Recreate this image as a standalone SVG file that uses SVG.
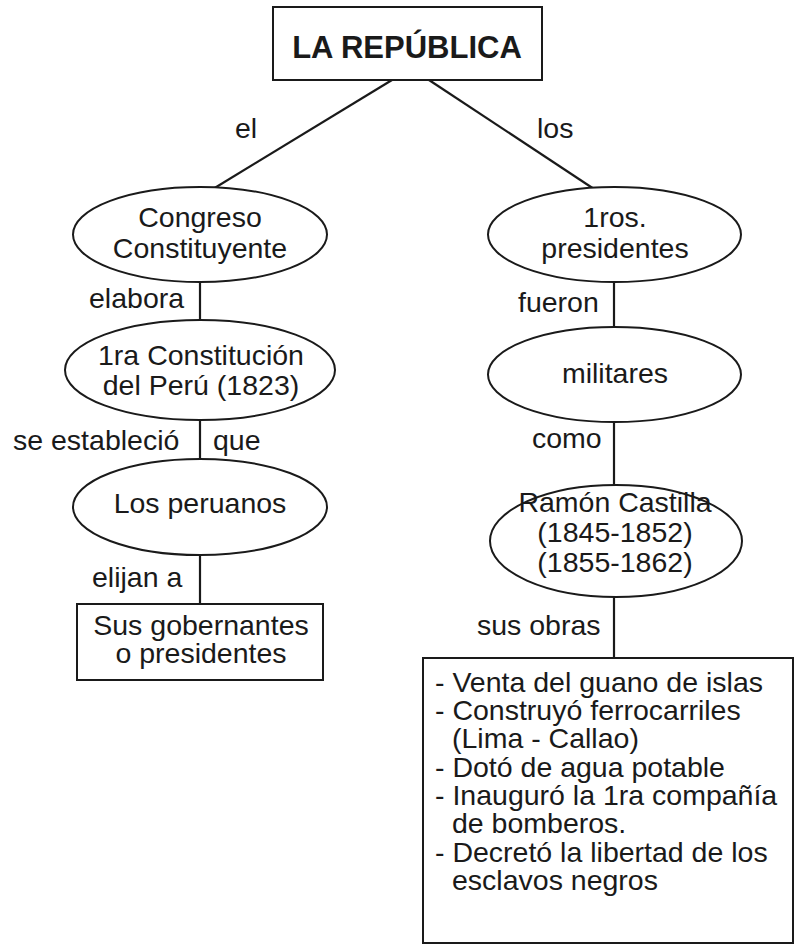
<svg xmlns="http://www.w3.org/2000/svg" width="795" height="950" viewBox="0 0 795 950">
<style>
text{font-family:"Liberation Sans",Arial,sans-serif;font-size:28.5px;fill:#1a1a1a}
.c{text-anchor:middle}
.t{font-weight:bold;font-size:31px}
.s{fill:#fff;stroke:#1a1a1a;stroke-width:2}
.e line{stroke:#1a1a1a;stroke-width:2.2}
</style>
<rect width="795" height="950" fill="#fff"/>
<g class="e" id="connectors">
<line x1="392" y1="80" x2="213" y2="189"/>
<line x1="429" y1="80" x2="594" y2="189"/>
<line x1="200" y1="282" x2="200" y2="320"/>
<line x1="200" y1="420" x2="200" y2="459"/>
<line x1="200" y1="555" x2="200" y2="604"/>
<line x1="614" y1="282" x2="614" y2="327"/>
<line x1="614" y1="422" x2="614" y2="485"/>
<line x1="614" y1="597" x2="614" y2="658"/>
<text x="235" y="138">el</text>
<text x="537" y="138">los</text>
<text x="89" y="308">elabora</text>
<text x="13" y="450">se estableció</text>
<text x="213" y="450">que</text>
<text x="92" y="587">elijan a</text>
<text x="518" y="312">fueron</text>
<text x="532" y="448">como</text>
<text x="477" y="635">sus obras</text>
</g>
<g id="republica">
<rect class="s" x="273" y="7" width="269" height="73"/>
<text class="c t" x="407" y="58">LA REPÚBLICA</text>
</g>
<g id="congreso">
<ellipse class="s" cx="200" cy="234.5" rx="127" ry="47.5"/>
<text class="c" x="200" y="227">Congreso</text>
<text class="c" x="200" y="258">Constituyente</text>
</g>
<g id="constitucion">
<ellipse class="s" cx="200" cy="370" rx="135" ry="50"/>
<text class="c" x="201" y="365">1ra Constitución</text>
<text class="c" x="201" y="395">del Perú (1823)</text>
</g>
<g id="peruanos">
<ellipse class="s" cx="200" cy="507" rx="127" ry="48"/>
<text class="c" x="200" y="513">Los peruanos</text>
</g>
<g id="gobernantes">
<rect class="s" x="77" y="604" width="246" height="76"/>
<text class="c" x="201" y="635">Sus gobernantes</text>
<text class="c" x="201" y="663">o presidentes</text>
</g>
<g id="presidentes">
<ellipse class="s" cx="614.5" cy="234.5" rx="126.5" ry="47.5"/>
<text class="c" x="615" y="227">1ros.</text>
<text class="c" x="615" y="258">presidentes</text>
</g>
<g id="militares">
<ellipse class="s" cx="614.5" cy="374.5" rx="126.5" ry="47.5"/>
<text class="c" x="615" y="383">militares</text>
</g>
<g id="castilla">
<ellipse class="s" cx="616" cy="541" rx="126" ry="56"/>
<text class="c" x="615" y="512">Ramón Castilla</text>
<text class="c" x="615" y="542">(1845-1852)</text>
<text class="c" x="615" y="572">(1855-1862)</text>
</g>
<g id="obras">
<rect class="s" x="423" y="658" width="370" height="285"/>
<text x="435" y="692">- Venta del guano de islas</text>
<text x="435" y="720">- Construyó ferrocarriles</text>
<text x="452" y="748">(Lima - Callao)</text>
<text x="435" y="777">- Dotó de agua potable</text>
<text x="435" y="805">- Inauguró la 1ra compañía</text>
<text x="452" y="833">de bomberos.</text>
<text x="435" y="862">- Decretó la libertad de los</text>
<text x="452" y="890">esclavos negros</text>
</g>
</svg>
